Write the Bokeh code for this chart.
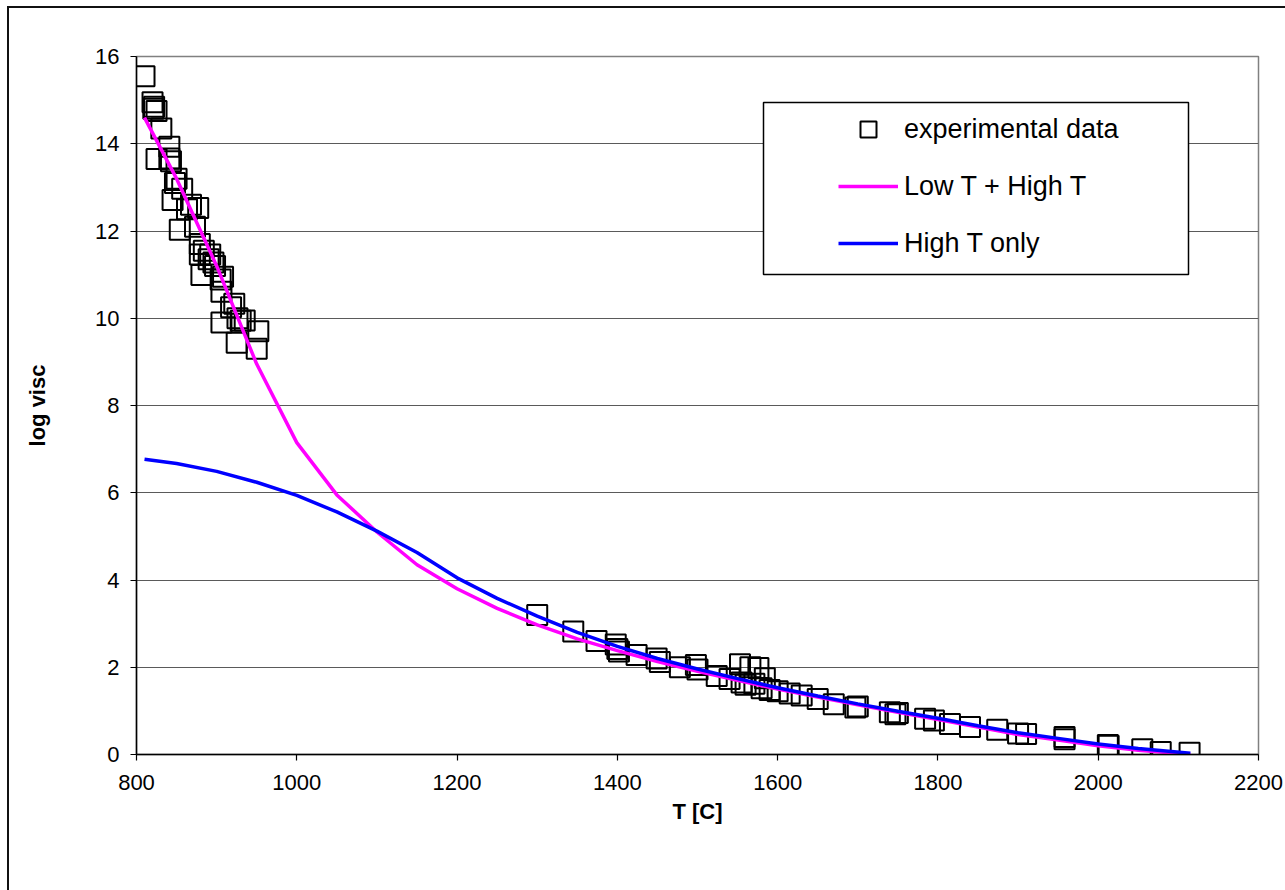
from bokeh.plotting import figure
from bokeh.models import Range1d, FixedTicker, BoxAnnotation, Legend, LegendItem
from bokeh.embed import file_html
from bokeh.resources import INLINE

# experimental data
exp_T = [810, 820, 822, 825, 821, 831, 825, 841, 841, 843, 850, 848, 857, 845,
         863, 877, 868, 854, 873, 879, 879, 884, 892, 890, 881, 896, 898, 905,
         908, 906, 922, 918, 930, 926, 935, 906, 952, 925, 950,
         1300, 1345, 1374, 1398, 1400, 1402, 1424, 1449, 1453, 1478, 1498, 1500,
         1524, 1540, 1553, 1555, 1560, 1566, 1571, 1576, 1580, 1584, 1590, 1600,
         1615, 1630, 1650, 1670, 1697, 1700, 1740, 1747, 1750, 1784, 1795, 1815,
         1840, 1874, 1900, 1910, 1958, 1958, 2012, 2013, 2055, 2078, 2114]
exp_v = [15.55, 14.95, 14.85, 14.75, 14.8, 14.35, 13.65, 13.93, 13.66, 13.6,
         13.2, 13.1, 12.97, 12.71, 12.5, 12.53, 12.6, 12.03, 12.1, 11.7, 11.46,
         11.55, 11.46, 11.35, 10.99, 11.28, 11.2, 10.89, 10.95, 10.61, 10.33,
         10.25, 9.94, 10.0, 9.95, 9.9, 9.7, 9.44, 9.3,
         3.2, 2.82, 2.6, 2.52, 2.42, 2.36, 2.28, 2.2, 2.12, 2.0, 2.05, 1.95,
         1.8, 1.73, 2.07, 1.65, 1.6, 2.0, 1.62, 1.98, 1.52, 1.75, 1.48, 1.45,
         1.4, 1.35, 1.27, 1.15, 1.08, 1.1, 0.97, 0.92, 0.95, 0.82, 0.78, 0.7,
         0.63, 0.57, 0.48, 0.47, 0.4, 0.35, 0.22, 0.2, 0.12, 0.06, 0.04]

# model curves
fit_T = [810, 850, 900, 950, 1000, 1050, 1100, 1150, 1200, 1250, 1300, 1350,
         1400, 1450, 1500, 1550, 1600, 1650, 1700, 1750, 1800, 1850, 1900,
         1950, 2000, 2050, 2115]
lowhigh_v = [14.6, 13.2, 11.2, 8.95, 7.15, 5.95, 5.1, 4.35, 3.8, 3.35, 2.97,
             2.65, 2.38, 2.13, 1.91, 1.7, 1.5, 1.32, 1.14, 0.97, 0.8, 0.63,
             0.46, 0.33, 0.2, 0.1, 0.0]
high_v = [6.77, 6.67, 6.49, 6.24, 5.94, 5.56, 5.12, 4.63, 4.05, 3.58, 3.17,
          2.8, 2.48, 2.2, 1.96, 1.74, 1.53, 1.34, 1.16, 0.99, 0.83, 0.66,
          0.5, 0.37, 0.24, 0.14, 0.03]

x_ticks = [800, 1000, 1200, 1400, 1600, 1800, 2000, 2200]
y_ticks = [0, 2, 4, 6, 8, 10, 12, 14, 16]

FONT = "Liberation Sans"

p = figure(width=1285, height=890, x_range=Range1d(800, 2200), y_range=Range1d(0, 16),
           output_backend="svg", toolbar_location=None,
           min_border_left=136, min_border_right=27, min_border_top=56, min_border_bottom=136)
p.background_fill_color = "white"
p.border_fill_alpha = 0
# outer chart frame (left and top edges visible in the window)
p.styles = {
    "background": "linear-gradient(#111, #111) 7px 6px / 2px 2000px no-repeat, "
                  "linear-gradient(#111, #111) 7px 6px / 2000px 2px no-repeat, white"
}
p.outline_line_color = "#808080"
p.outline_line_width = 1.5

p.xgrid.visible = False
p.ygrid.ticker = FixedTicker(ticks=y_ticks)
p.ygrid.grid_line_color = "#5a5a5a"
p.ygrid.grid_line_width = 1.2

for ax in (p.xaxis[0], p.yaxis[0]):
    ax.axis_line_color = "black"
    ax.axis_line_width = 1.5
    ax.major_tick_line_color = "black"
    ax.major_tick_line_width = 1.2
    ax.major_tick_out = 6
    ax.major_tick_in = 0
    ax.minor_tick_line_color = None
    ax.major_label_text_font = FONT
    ax.major_label_text_font_size = "22px"
    ax.major_label_text_color = "black"
    ax.axis_label_text_font = FONT
    ax.axis_label_text_font_size = "22px"
    ax.axis_label_text_font_style = "bold"
    ax.axis_label_text_color = "black"

p.xaxis.ticker = FixedTicker(ticks=x_ticks)
p.yaxis.ticker = FixedTicker(ticks=y_ticks)
p.xaxis.axis_label = "T [C]"
p.yaxis.axis_label = "log visc"
p.xaxis.major_label_standoff = 14
p.yaxis.major_label_standoff = 11
p.xaxis.axis_label_standoff = 6
p.yaxis.axis_label_standoff = 42

sq = p.scatter(exp_T, exp_v, marker="square", size=20, fill_color=None,
               line_color="black", line_width=2)
lm = p.line(fit_T, lowhigh_v, line_color="#FF00FF", line_width=3.5)
lb = p.line(fit_T, high_v, line_color="#0000FF", line_width=3.5)

legbox = BoxAnnotation(left=763, right=1188, top=102, bottom=274,
                       left_units="canvas", right_units="canvas",
                       top_units="canvas", bottom_units="canvas",
                       fill_color="white", fill_alpha=1,
                       line_color="black", line_alpha=1, line_width=1.5)
p.add_layout(legbox)

legend = Legend(items=[LegendItem(label="experimental data", renderers=[sq]),
                       LegendItem(label="Low T + High T", renderers=[lm]),
                       LegendItem(label="High T only", renderers=[lb])],
                location=(702, 491), orientation="vertical",
                glyph_width=60, glyph_height=40, label_height=40, spacing=17,
                label_standoff=6, padding=0, margin=0,
                border_line_alpha=0, background_fill_alpha=0,
                label_text_font=FONT, label_text_font_size="27px",
                label_text_color="black")
p.add_layout(legend)

open("out.html", "w").write(file_html(p, INLINE))
